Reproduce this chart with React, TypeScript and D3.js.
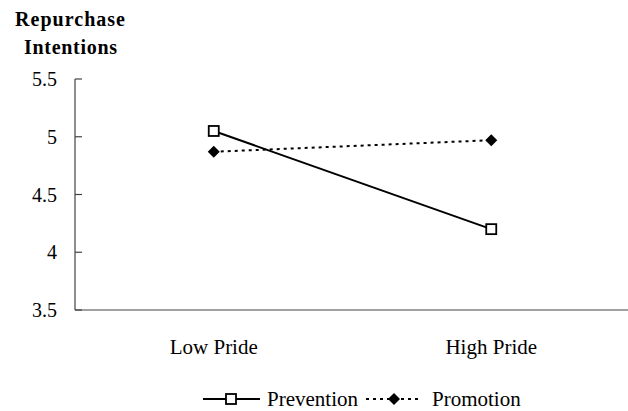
import React from "react";
import * as d3 from "d3";

const categories = ["Low Pride", "High Pride"];
const prevention = [5.05, 4.2];
const promotion = [4.87, 4.97];
const yTicks = [3.5, 4, 4.5, 5, 5.5];

const W = 628;
const H = 411;
const font = "'Liberation Serif', 'Times New Roman', serif";

const App: React.FC = () => {
  const x = d3.scaleBand().domain(categories).range([75, 630]);
  const y = d3.scaleLinear().domain([3.5, 5.5]).range([310, 79]);
  const cx = (c: string) => (x(c) ?? 0) + x.bandwidth() / 2;

  const line = d3
    .line<number>()
    .x((_, i) => cx(categories[i]))
    .y(d => y(d));

  const diamond = (px: number, py: number, r: number) =>
    `M${px},${py - r}L${px + r},${py}L${px},${py + r}L${px - r},${py}Z`;

  return (
    <svg
      width={W}
      height={H}
      style={{ position: "absolute", left: 0, top: 0, background: "#fff" }}
    >
      {/* y title */}
      <text x={15} y={26} fontFamily={font} fontWeight="bold" fontSize={20} textLength={110} lengthAdjust="spacing">
        Repurchase
      </text>
      <text x={24} y={54} fontFamily={font} fontWeight="bold" fontSize={20} textLength={93} lengthAdjust="spacing">
        Intentions
      </text>

      {/* axes */}
      <line x1={75} x2={75} y1={y(5.5)} y2={y(3.5)} stroke="#444" strokeWidth={1.2} />
      <line x1={75} x2={W} y1={y(3.5)} y2={y(3.5)} stroke="#444" strokeWidth={1.2} />
      {yTicks.map(t => (
        <g key={t}>
          <line x1={75} x2={82} y1={y(t)} y2={y(t)} stroke="#444" strokeWidth={1.2} />
          <text x={57} y={y(t)} dy="0.35em" textAnchor="end" fontFamily={font} fontSize={20}>
            {t}
          </text>
        </g>
      ))}
      {categories.map(c => (
        <text key={c} x={cx(c)} y={354} textAnchor="middle" fontFamily={font} fontSize={21}>
          {c}
        </text>
      ))}

      {/* series */}
      <path d={line(prevention) ?? ""} fill="none" stroke="#000" strokeWidth={2} />
      <path d={line(promotion) ?? ""} fill="none" stroke="#000" strokeWidth={2} strokeDasharray="3,4" />
      {prevention.map((v, i) => (
        <rect
          key={i}
          x={cx(categories[i]) - 5}
          y={y(v) - 5}
          width={10}
          height={10}
          fill="#fff"
          stroke="#000"
          strokeWidth={1.8}
        />
      ))}
      {promotion.map((v, i) => (
        <path key={i} d={diamond(cx(categories[i]), y(v), 6)} fill="#000" />
      ))}

      {/* legend */}
      <line x1={203} x2={260} y1={399} y2={399} stroke="#000" strokeWidth={2} />
      <rect x={226} y={394} width={10} height={10} fill="#fff" stroke="#000" strokeWidth={1.8} />
      <text x={267} y={406} fontFamily={font} fontSize={21}>
        Prevention
      </text>
      <line x1={366} x2={422} y1={399} y2={399} stroke="#000" strokeWidth={2} strokeDasharray="3,4" />
      <path d={diamond(394, 399, 6)} fill="#000" />
      <text x={432} y={406} fontFamily={font} fontSize={21}>
        Promotion
      </text>
    </svg>
  );
};

export default App;
